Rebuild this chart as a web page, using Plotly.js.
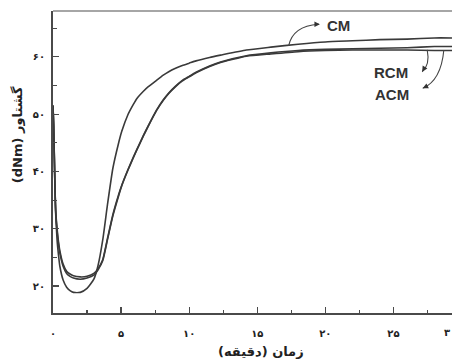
<!DOCTYPE html>
<html>
<head>
<meta charset="utf-8">
<script src="https://cdn.plot.ly/plotly-3.0.1.min.js"></script>
<style>html,body{margin:0;padding:0;background:#fff;}#chart{width:452px;height:361px;}</style>
</head>
<body>
<div id="chart"></div>
<script>
// time (minutes)
const time = [0,0.05,0.1,0.15,0.2,0.3,0.4,0.5,0.75,1,1.25,1.5,2,2.5,3,3.3,3.65,4,4.4,4.8,5.05,5.5,5.9,6.15,6.64,7,7.6,8.1,8.5,9,9.5,10,10.5,11.5,12.3,14.2,16,18,20,22,24,26,28,29.3];
// torque (dNm)
const CM  = [51.5,48,42,36.5,32.5,28,25.5,23.5,21,19.8,19.2,18.9,18.9,19.6,21.2,23.5,28,34.2,40.6,44.8,47.0,49.9,51.7,52.7,54.0,54.8,55.9,56.8,57.4,58.0,58.5,58.9,59.3,59.9,60.3,61.2,61.7,62.2,62.6,62.8,63.0,63.1,63.3,63.3];
const RCM = [51.5,48,42.5,37,33.2,30,27.8,26.2,23.8,22.6,22.1,21.8,21.6,21.7,22.2,23,24.6,28.3,32.5,35.8,37.6,40.3,42.5,43.8,46.3,48.0,50.7,52.5,53.7,54.9,55.9,56.6,57.3,58.4,59.1,60.2,60.7,61.1,61.3,61.4,61.5,61.6,61.8,61.8];
const ACM = [51.5,48,42.3,36.8,32.8,29.6,27.4,25.8,23.4,22.2,21.7,21.4,21.2,21.4,21.9,22.8,24.4,28.1,32.3,35.6,37.5,40.2,42.4,43.7,46.2,47.9,50.6,52.4,53.6,54.8,55.8,56.5,57.2,58.3,59.0,60.1,60.5,60.9,61.1,61.2,61.2,61.2,61.1,61.1];

const xTickVals = [0,5,10,15,20,25];
const xTickText = ['۰','۵','۱۰','۱۵','۲۰','۲۵'];
const yTickVals = [20,30,40,50,60];
const yTickText = ['۲۰','۳۰','۴۰','۵۰','۶۰'];

const xTitle = '\u202Bزمان (دقیقه)\u202C';
const yTitle = '\u202Bگشتاور (dNm)\u202C';

const lineStyle = {color:'#3a3a3a', width:1.6, shape:'spline', smoothing:0.5};
const traces = [
  {x:time, y:CM,  name:'CM',  mode:'lines', line:lineStyle},
  {x:time, y:RCM, name:'RCM', mode:'lines', line:lineStyle},
  {x:time, y:ACM, name:'ACM', mode:'lines', line:lineStyle}
];

const tickFont = {family:'DejaVu Sans, Noto Sans, sans-serif', size:10, color:'#222', weight:'bold'};
const labelFont = {family:'Liberation Sans, Arial, sans-serif', size:15, color:'#333', weight:'bold'};
const arrowLine = {color:'#444', width:1.1};
const titleFont = {family:'DejaVu Sans, Noto Sans, sans-serif', size:13, color:'#222', weight:'bold'};

const layout = {
  width:452, height:361,
  margin:{l:53, r:0, t:11, b:48},
  paper_bgcolor:'#fff', plot_bgcolor:'#fff',
  showlegend:false,
  xaxis:{
    range:[0,29.3], showgrid:false, zeroline:false,
    showline:true, linecolor:'#4a4a4a', linewidth:2,
    ticks:'inside', ticklen:6, tickwidth:1.2, tickcolor:'#4a4a4a',
    tickvals:xTickVals, ticktext:xTickText, tickfont:tickFont,
    ticklabelstandoff:10,
    minor:{dtick:2.5, tick0:0, ticks:'inside', ticklen:3, tickwidth:1.2, tickcolor:'#4a4a4a'}
  },
  yaxis:{
    range:[15.3,68], showgrid:false, zeroline:false,
    showline:true, linecolor:'#4a4a4a', linewidth:2,
    ticks:'inside', ticklen:6, tickwidth:1.2, tickcolor:'#4a4a4a',
    tickvals:yTickVals, ticktext:yTickText, tickfont:tickFont,
    ticklabelstandoff:4,
    minor:{dtick:5, tick0:0, ticks:'inside', ticklen:4, tickwidth:1.2, tickcolor:'#4a4a4a'}
  },
  shapes:[
    {type:'line', xref:'paper', yref:'paper', x0:0, x1:1, y0:1, y1:1, line:{color:'#888', width:1.5}},
    {type:'path', xref:'x', yref:'y', path:'M 17.3,61.9 Q 17.6,65.4 19.5,65.7', line:arrowLine},
    {type:'path', xref:'x', yref:'y', path:'M 27.48,61.2 Q 27.7,58.6 27.11,57.4', line:arrowLine},
    {type:'path', xref:'x', yref:'y', path:'M 28.7,61.2 Q 28.5,55.9 27.15,54.5', line:arrowLine}
  ],
  annotations:[
    {x:20.96, y:65.55, xref:'x', yref:'y', text:'CM', showarrow:false, font:labelFont},
    {x:24.85, y:57.2, xref:'x', yref:'y', text:'RCM', showarrow:false, font:labelFont},
    {x:24.93, y:53.5, xref:'x', yref:'y', text:'ACM', showarrow:false, font:labelFont},
    {x:19.6, y:65.7, xref:'x', yref:'y', text:'', showarrow:true, arrowhead:2, arrowsize:1, arrowwidth:1.1, arrowcolor:'#333', ax:-6, ay:0},
    {x:27.11, y:57.4, xref:'x', yref:'y', text:'', showarrow:true, arrowhead:2, arrowsize:1, arrowwidth:1.1, arrowcolor:'#333', ax:3, ay:-5},
    {x:27.15, y:54.5, xref:'x', yref:'y', text:'', showarrow:true, arrowhead:2, arrowsize:1, arrowwidth:1.1, arrowcolor:'#333', ax:6, ay:-3},
    {x:1, y:-0.066, xref:'paper', yref:'paper', xanchor:'right', yanchor:'middle', text:'۳', showarrow:false, font:tickFont},
    {x:0.521, y:-0.129, xref:'paper', yref:'paper', xanchor:'center', yanchor:'middle', text:xTitle, showarrow:false, font:titleFont},
    {x:-0.09, y:0.589, xref:'paper', yref:'paper', xanchor:'center', yanchor:'middle', text:yTitle, showarrow:false, textangle:-90, font:titleFont}
  ]
};

Plotly.newPlot('chart', traces, layout, {staticPlot:true, displayModeBar:false});
</script>
</body>
</html>
